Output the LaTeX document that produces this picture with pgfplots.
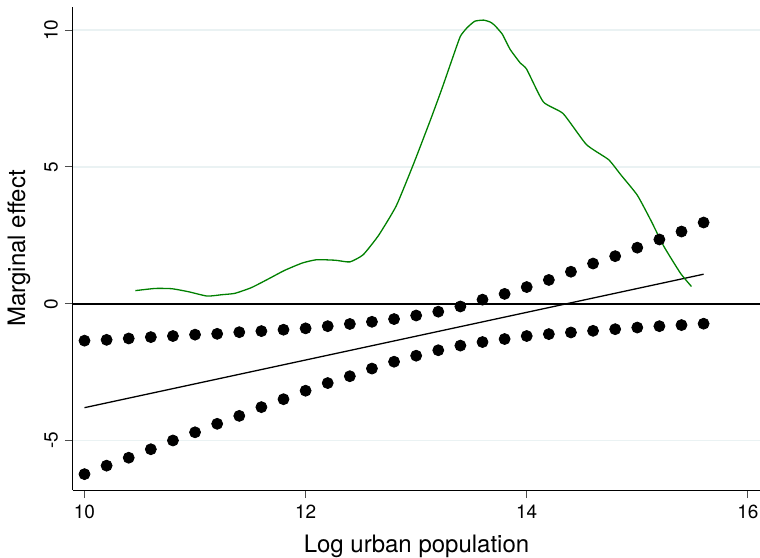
\documentclass[border=0pt]{standalone}
\usepackage{fontspec}
\setmainfont{TeX Gyre Heros}
\usepackage{pgfplots}
\usepackage{pgfplotstable}
\pgfplotsset{compat=1.18}
\definecolor{gridc}{RGB}{234,242,243}
\definecolor{sgreen}{RGB}{0,128,0}

\pgfplotstableread{
x upper lower
10.0 -1.35 -6.23
10.2 -1.32 -5.92
10.4 -1.27 -5.63
10.6 -1.22 -5.32
10.8 -1.18 -5.00
11.0 -1.13 -4.70
11.2 -1.10 -4.39
11.4 -1.04 -4.10
11.6 -1.00 -3.78
11.8 -0.95 -3.49
12.0 -0.90 -3.18
12.2 -0.82 -2.90
12.4 -0.74 -2.65
12.6 -0.66 -2.37
12.8 -0.56 -2.12
13.0 -0.43 -1.90
13.2 -0.29 -1.70
13.4 -0.10 -1.53
13.6 0.15 -1.40
13.8 0.36 -1.29
14.0 0.61 -1.18
14.2 0.87 -1.11
14.4 1.17 -1.05
14.6 1.47 -0.99
14.8 1.74 -0.93
15.0 2.05 -0.87
15.2 2.35 -0.82
15.4 2.64 -0.78
15.6 2.97 -0.73
}\citab

\pgfplotstableread{
x y
10.46 0.48
10.64 0.56
10.79 0.55
10.94 0.44
11.11 0.28
11.24 0.33
11.36 0.38
11.51 0.59
11.66 0.90
11.81 1.22
11.97 1.49
12.10 1.61
12.27 1.59
12.40 1.53
12.52 1.79
12.66 2.50
12.82 3.58
12.98 5.15
13.13 6.73
13.23 7.83
13.34 9.11
13.40 9.78
13.46 10.09
13.53 10.33
13.61 10.37
13.67 10.30
13.71 10.18
13.78 9.85
13.85 9.30
13.94 8.81
14.00 8.57
14.15 7.38
14.33 6.95
14.54 5.82
14.74 5.27
14.85 4.72
15.00 3.97
15.12 3.07
15.24 2.10
15.39 1.12
15.49 0.63
}\dens

\begin{document}
\begin{tikzpicture}
\begin{axis}[
  scale only axis,
  width=343.5pt, height=241.5pt,
  xmin=9.896, xmax=16.11,
  ymin=-6.81, ymax=10.85,
  axis lines=left,
  axis line style={-, line width=0.5pt},
  xtick={10,12,14,16},
  ytick={-5,0,5,10},
  tick align=outside,
  major tick length=4pt,
  tick style={line width=0.5pt, black!70},
  ymajorgrids,
  grid style={gridc, line width=0.8pt},
  /pgf/number format/assume math mode=true,
  tick label style={font=\fontsize{9.5}{11}\selectfont},
  yticklabel style={rotate=90, anchor=south},
  label style={font=\fontsize{12}{14}\selectfont},
  xlabel={Log urban population},
  ylabel={Marginal effect},
  xlabel style={yshift=-1pt},
  clip=false,
]
\addplot[black, line width=0.8pt, forget plot] coordinates {(9.896,0) (16.11,0)};
\addplot[only marks, mark=*, mark size=2.75pt, black] table[x=x, y=upper] {\citab};
\addplot[only marks, mark=*, mark size=2.75pt, black] table[x=x, y=lower] {\citab};
\addplot[black, line width=0.65pt] coordinates {(10,-3.80) (15.6,1.08)};
\addplot[sgreen, line width=0.65pt, smooth, tension=0.3] table[x=x, y=y] {\dens};
\end{axis}
\pgfresetboundingbox
\useasboundingbox ([xshift=-36.5pt,yshift=-33.5pt]current axis.south west) rectangle ([yshift=3.5pt]current axis.north east);
\end{tikzpicture}
\end{document}
